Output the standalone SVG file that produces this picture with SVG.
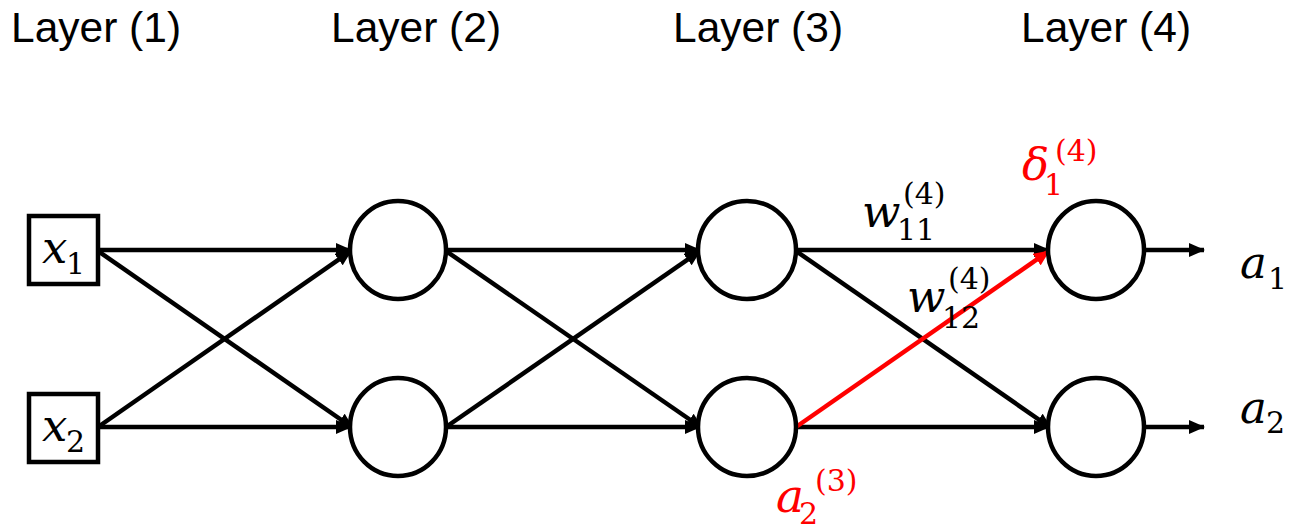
<svg xmlns="http://www.w3.org/2000/svg" width="1294" height="531" viewBox="0 0 1294 531">
<defs>
<style>
.lbl{font-family:"Liberation Sans",Arial,sans-serif;font-size:42.5px;fill:#000}
.node{fill:#fff;stroke:#000;stroke-width:4.5}
.edge{stroke:#000;stroke-width:4.5;fill:none}
.red{stroke:#ff0000;stroke-width:4.5;fill:none}
.m{font-family:"DejaVu Serif",serif;font-style:italic;font-size:45px;fill:#000}
.s{font-family:"DejaVu Serif",serif;font-size:30px;fill:#000}
.r{fill:#ff0000}
</style>
<marker id="ah" viewBox="0 0 16 14" refX="15" refY="7" markerWidth="16" markerHeight="14" markerUnits="userSpaceOnUse" orient="auto">
<path d="M0,0 L16,7 L0,14 z" fill="#000"/>
</marker>
<marker id="ahr" viewBox="0 0 16 14" refX="15" refY="7" markerWidth="16" markerHeight="14" markerUnits="userSpaceOnUse" orient="auto">
<path d="M0,0 L16,7 L0,14 z" fill="#ff0000"/>
</marker>
</defs>
<rect width="1294" height="531" fill="#fff"/>

<g id="layer-labels">
<text class="lbl" x="11" y="42">Layer (1)</text>
<text class="lbl" x="331" y="42">Layer (2)</text>
<text class="lbl" x="673" y="42">Layer (3)</text>
<text class="lbl" x="1021" y="42">Layer (4)</text>
</g>

<g id="connectors">
<line class="edge" x1="98" y1="250" x2="351" y2="250" marker-end="url(#ah)"/>
<line class="edge" x1="98" y1="251" x2="353" y2="428" marker-end="url(#ah)"/>
<line class="edge" x1="98" y1="427" x2="351" y2="251" marker-end="url(#ah)"/>
<line class="edge" x1="98" y1="427" x2="351" y2="427" marker-end="url(#ah)"/>

<line class="edge" x1="446" y1="250" x2="700" y2="250" marker-end="url(#ah)"/>
<line class="edge" x1="446" y1="251" x2="702" y2="428" marker-end="url(#ah)"/>
<line class="edge" x1="446" y1="427" x2="700" y2="251" marker-end="url(#ah)"/>
<line class="edge" x1="446" y1="427" x2="700" y2="427" marker-end="url(#ah)"/>

<line class="edge" x1="796" y1="250" x2="1049" y2="250" marker-end="url(#ah)"/>
<line class="edge" x1="796" y1="251" x2="1051" y2="428" marker-end="url(#ah)"/>
<line class="edge" x1="796" y1="427" x2="1049" y2="427" marker-end="url(#ah)"/>
<line class="red" x1="796" y1="427" x2="1049" y2="251" marker-end="url(#ahr)"/>

<line class="edge" x1="1144" y1="250" x2="1204" y2="250" marker-end="url(#ah)"/>
<line class="edge" x1="1144" y1="427" x2="1204" y2="427" marker-end="url(#ah)"/>
</g>

<g id="x1">
<rect class="node" x="29" y="216" width="69" height="68"/>
<text class="m" x="42" y="263">x</text><text class="s" x="66" y="274">1</text>
</g>
<g id="x2">
<rect class="node" x="29" y="394" width="69" height="68"/>
<text class="m" x="42" y="441">x</text><text class="s" x="66" y="452">2</text>
</g>

<g id="n21"><ellipse class="node" cx="398" cy="250" rx="48" ry="49"/></g>
<g id="n22"><ellipse class="node" cx="398" cy="427" rx="48" ry="49"/></g>
<g id="n31"><ellipse class="node" cx="747" cy="250" rx="49" ry="49"/></g>
<g id="n32"><ellipse class="node" cx="747" cy="427" rx="49" ry="49"/></g>
<g id="n41"><ellipse class="node" cx="1096" cy="250" rx="48" ry="49"/></g>
<g id="n42"><ellipse class="node" cx="1096" cy="427" rx="48" ry="49"/></g>

<g id="w11">
<text class="m" x="862" y="227">w</text><text class="s" x="897" y="240">11</text><text class="s" x="903" y="204">(4)</text>
</g>
<g id="w12">
<text class="m" x="907" y="312">w</text><text class="s" x="942" y="328">12</text><text class="s" x="948" y="289">(4)</text>
</g>
<g id="delta1">
<text class="m r" x="1022" y="180">δ</text><text class="s r" x="1044" y="195">1</text><text class="s r" x="1055" y="161">(4)</text>
</g>
<g id="a1">
<text class="m" x="1240" y="278">a</text><text class="s" x="1268" y="289">1</text>
</g>
<g id="a2">
<text class="m" x="1240" y="423">a</text><text class="s" x="1266" y="433">2</text>
</g>
<g id="a23">
<text class="m r" x="776" y="512" style="font-size:47px">a</text><text class="s r" x="799" y="524">2</text><text class="s r" x="815" y="491">(3)</text>
</g>
</svg>
